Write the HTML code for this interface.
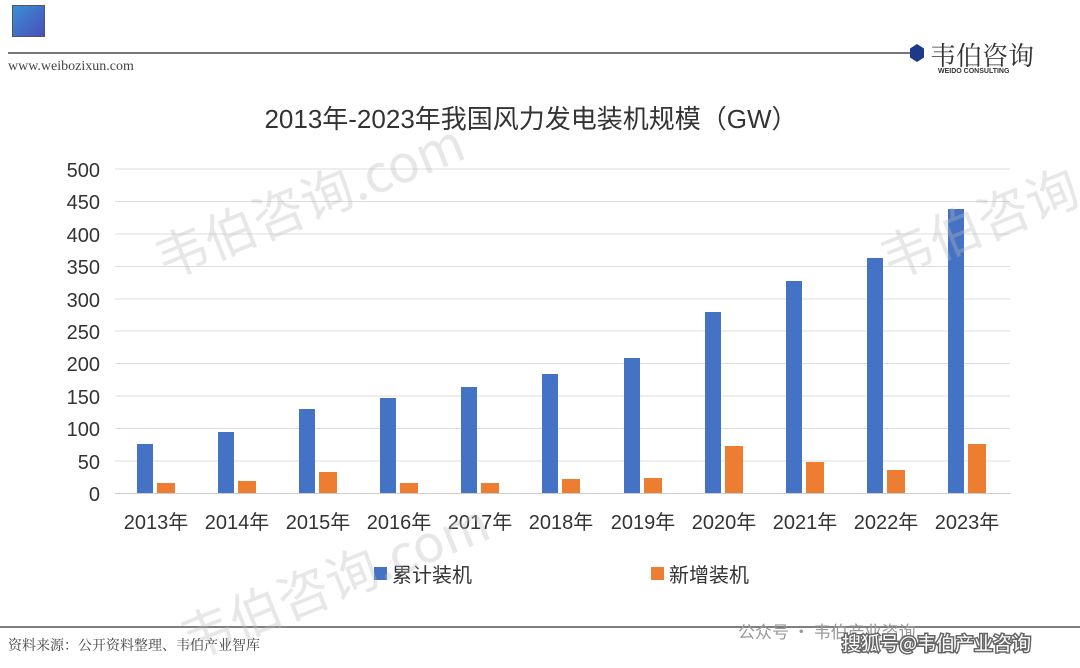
<!DOCTYPE html><html><head><meta charset="utf-8"><style>
body{margin:0;width:1080px;height:668px;background:#fff;overflow:hidden;font-family:"Liberation Sans","Noto Sans CJK SC",sans-serif;position:relative}
.a{position:absolute}
</style></head><body>
<div class="a" style="left:12px;top:5px;width:31px;height:30px;background:linear-gradient(135deg,#3a8fd6,#4a4fb8);border:1px solid #555"></div>
<div class="a" style="left:8px;top:52px;width:905px;height:2px;background:#777"></div>
<div class="a" style="left:910px;top:44px;width:14px;height:18px;background:#1d3a8a;clip-path:polygon(50% 0,100% 25%,100% 75%,50% 100%,0 75%,0 25%)"></div>
<div class="a" style="left:930px;top:36px;font:26px 'Noto Serif CJK SC',serif;color:#333">韦伯咨询</div>
<div class="a" style="left:938px;top:68px;font:bold 7px 'Liberation Sans';color:#333">WEIDO CONSULTING</div>
<div class="a" style="left:8px;top:59px;font:14px 'Liberation Serif',serif;color:#444">www.weibozixun.com</div>
<div class="a" style="left:0;width:1062px;top:99px;text-align:center;font-size:26px;color:#333">2013年-2023年我国风力发电装机规模（GW）</div>
<svg class="a" style="left:0;top:0" width="1080" height="668">
<g stroke="#ddd" stroke-width="1">
<line x1="115" x2="1010" y1="169" y2="169"/><line x1="115" x2="1010" y1="201.5" y2="201.5"/><line x1="115" x2="1010" y1="234" y2="234"/><line x1="115" x2="1010" y1="266.5" y2="266.5"/><line x1="115" x2="1010" y1="299" y2="299"/><line x1="115" x2="1010" y1="331" y2="331"/><line x1="115" x2="1010" y1="363.5" y2="363.5"/><line x1="115" x2="1010" y1="396" y2="396"/><line x1="115" x2="1010" y1="428.5" y2="428.5"/><line x1="115" x2="1010" y1="461" y2="461"/></g>
<line x1="115" x2="1010" y1="493.5" y2="493.5" stroke="#ccc"/>
<g font-size="20" fill="#333" text-anchor="end" font-family="Liberation Sans,sans-serif">
<text x="100" y="177">500</text><text x="100" y="209">450</text><text x="100" y="242">400</text><text x="100" y="274">350</text><text x="100" y="307">300</text><text x="100" y="339">250</text><text x="100" y="371">200</text><text x="100" y="404">150</text><text x="100" y="436">100</text><text x="100" y="469">50</text><text x="100" y="501">0</text></g>
<g fill="#4472c4">
<rect x="137" y="444" width="16" height="49"/><rect x="218" y="432" width="16" height="61"/><rect x="299" y="409" width="16" height="84"/><rect x="380" y="398" width="16" height="95"/><rect x="461" y="387" width="16" height="106"/><rect x="542" y="374" width="16" height="119"/><rect x="624" y="358" width="16" height="135"/><rect x="705" y="312" width="16" height="181"/><rect x="786" y="281" width="16" height="212"/><rect x="867" y="258" width="16" height="235"/><rect x="948" y="209" width="16" height="284"/></g>
<g fill="#ed7d31">
<rect x="157" y="483" width="18" height="10"/><rect x="238" y="481" width="18" height="12"/><rect x="319" y="472" width="18" height="21"/><rect x="400" y="483" width="18" height="10"/><rect x="481" y="483" width="18" height="10"/><rect x="562" y="479" width="18" height="14"/><rect x="644" y="478" width="18" height="15"/><rect x="725" y="446" width="18" height="47"/><rect x="806" y="462" width="18" height="31"/><rect x="887" y="470" width="18" height="23"/><rect x="968" y="444" width="18" height="49"/></g>
<g font-size="20" fill="#333" text-anchor="middle" font-family="Liberation Sans,Noto Sans CJK SC,sans-serif">
<text x="156" y="529">2013年</text><text x="237" y="529">2014年</text><text x="318" y="529">2015年</text><text x="399" y="529">2016年</text><text x="480" y="529">2017年</text><text x="561" y="529">2018年</text><text x="643" y="529">2019年</text><text x="724" y="529">2020年</text><text x="805" y="529">2021年</text><text x="886" y="529">2022年</text><text x="967" y="529">2023年</text></g>
<rect x="374" y="567" width="13" height="13" fill="#4472c4"/>
<text x="392" y="582" font-size="20" fill="#333" font-family="Noto Sans CJK SC,sans-serif">累计装机</text>
<rect x="651" y="567" width="13" height="13" fill="#ed7d31"/>
<text x="669" y="582" font-size="20" fill="#333" font-family="Noto Sans CJK SC,sans-serif">新增装机</text>
<line x1="0" x2="1080" y1="627" y2="627" stroke="#555" stroke-width="1.5"/>
<g fill="#bbb" font-size="52" font-family="Noto Sans CJK SC,sans-serif" opacity="0.35">
<text transform="translate(165,280) rotate(-22)">韦伯咨询.com</text>
<text transform="translate(190,660) rotate(-22)">韦伯咨询.com</text>
<text transform="translate(890,280) rotate(-22)">韦伯咨询</text></g>
<text x="8" y="650" font-size="14" fill="#444" font-family="Noto Serif CJK SC,serif">资料来源：公开资料整理、韦伯产业智库</text>
<text x="738" y="638" font-size="17" fill="#999" font-family="Noto Sans CJK SC,sans-serif">公众号 · 韦伯产业咨询</text>
<text x="842" y="650" font-size="19" fill="#fff" stroke="#666" stroke-width="3" paint-order="stroke" font-family="Noto Sans CJK SC,sans-serif">搜狐号@韦伯产业咨询</text>
</svg>
</body></html>
